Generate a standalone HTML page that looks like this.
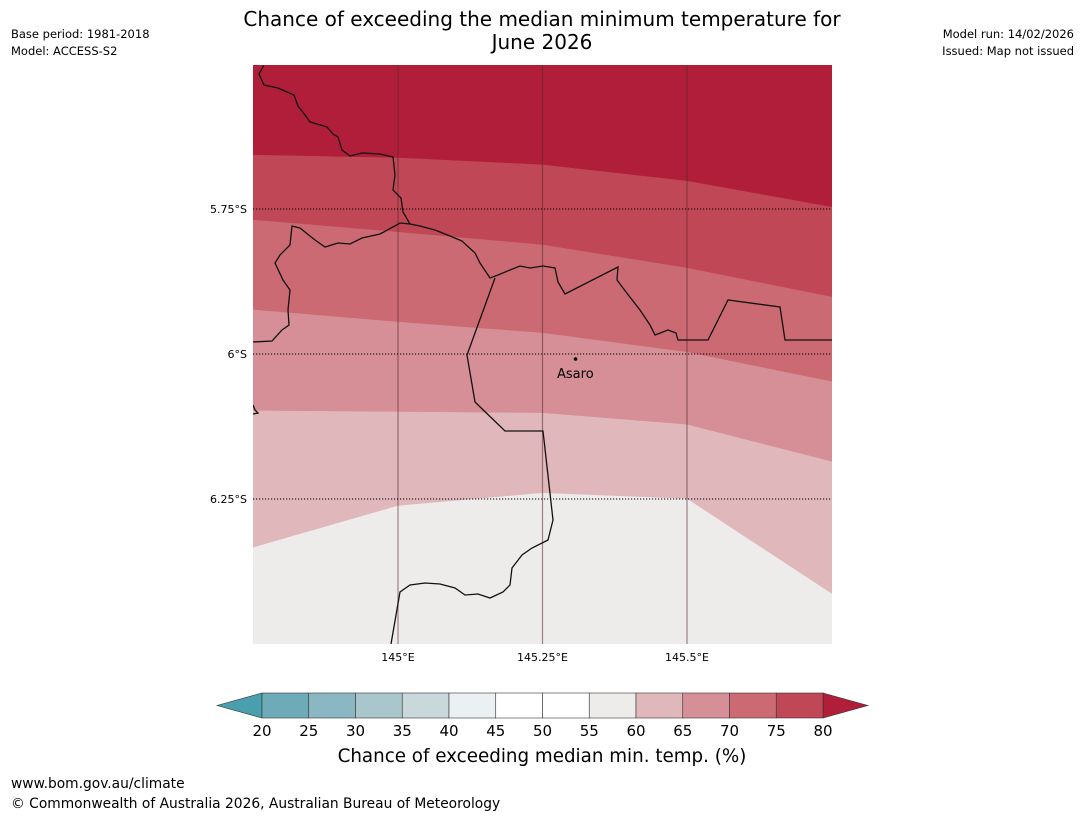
<!DOCTYPE html>
<html><head><meta charset="utf-8"><style>
body{margin:0;background:#fff;font-family:"Liberation Sans","DejaVu Sans",sans-serif;}
svg text{font-family:"DejaVu Sans","Liberation Sans",sans-serif;}
</style></head><body>
<svg id="chart" width="1085" height="816" viewBox="0 0 1085 816" xmlns="http://www.w3.org/2000/svg">
<rect width="1085" height="816" fill="#fff"/>
<text x="542" y="26" font-size="20" text-anchor="middle">Chance of exceeding the median minimum temperature for</text>
<text x="542" y="49" font-size="20" text-anchor="middle">June 2026</text>
<text x="11" y="38" font-size="11.5">Base period: 1981-2018</text>
<text x="11" y="55" font-size="11.5">Model: ACCESS-S2</text>
<text x="1074" y="38" font-size="11.5" text-anchor="end">Model run: 14/02/2026</text>
<text x="1074" y="55" font-size="11.5" text-anchor="end">Issued: Map not issued</text>
<defs><clipPath id="mapclip"><rect x="253" y="65" width="579" height="579"/></clipPath></defs>
<g id="bands" clip-path="url(#mapclip)"></g>
<g id="grid"></g>
<g clip-path="url(#mapclip)" fill="none" stroke="#111" stroke-width="1.3">
<polyline points="264,65 259,74 264,85 278,88 294,95 298,106 305,115 310,122 327,127 333,134 338,137 342,150 350,156 362,153 380,154 393,157 395,175 393,190 401,198 403,212 410,224 400,223 380,234 362,238 350,244 338,243 325,247 315,240 305,232 300,228 292,226 290,245 280,255 275,263 283,280 290,290 288,310 289,325 282,330 272,341 253,342"/>
<polyline points="410,224 420,226 435,230 450,236 462,241 475,253 480,263 490,278 498,275 510,270 520,266 530,268 543,266 555,268 558,282 565,294 618,267 617,280 626,292 640,310 650,325 655,335 668,330 676,333 678,340 708,340 728,300 780,307 785,340 832,340"/>
<polyline points="495,278 467,355 475,402 505,431 543,431 553,520 548,540 532,548 522,555 512,568 510,585 503,592 490,598 478,594 465,595 455,588 440,584 425,583 410,585 400,592 391,644"/>
<polyline points="253,405 255,410 258,413 253,414"/>
</g>
<g id="asaro">
<circle cx="575.5" cy="359" r="1.8" fill="#000"/>
<text x="557" y="378" font-size="13">Asaro</text>
</g>
<g id="ticks" font-size="11"></g>
<g id="cbar"></g>
<text x="542" y="762" font-size="18.3" text-anchor="middle">Chance of exceeding median min. temp. (%)</text>
<text x="11" y="788" font-size="13.8">www.bom.gov.au/climate</text>
<text x="11" y="808" font-size="13.8">© Commonwealth of Australia 2026, Australian Bureau of Meteorology</text>
</svg>
<script>
// Data
const boundaryLons = [144.749, 145, 145.25, 145.5, 145.751];
const b80 = [-5.657, -5.662, -5.674, -5.702, -5.747];
const b75 = [-5.769, -5.790, -5.812, -5.852, -5.902];
const b70 = [-5.924, -5.945, -5.964, -5.997, -6.048];
const b65 = [-6.098, -6.100, -6.102, -6.122, -6.186];
const b60 = [-6.334, -6.262, -6.240, -6.250, -6.414];
const lonTicks = [145, 145.25, 145.5];
const lonTickLabels = ["145°E", "145.25°E", "145.5°E"];
const latTicks = [-5.75, -6, -6.25];
const latTickLabels = ["5.75°S", "6°S", "6.25°S"];
const cbarLevels = [20,25,30,35,40,45,50,55,60,65,70,75,80];
const cbarColors = ["#6eabb8","#8bb7c2","#a9c6cc","#c9d8db","#ebf0f2","#ffffff","#ffffff","#eeeceb","#e0b8bc","#d68f96","#cb6a73","#c04755"];
const bandColors = ["#b01e3a","#c04755","#cb6a73","#d68f96","#e0b8bc","#eeeceb"];

const NS="http://www.w3.org/2000/svg";
const x = lon => 398 + (lon-145)*578;
const y = lat => 354 - (lat+6)*580;
const cx = v => 262 + (v-20)/60*561;
function mk(tag, attrs, parent){const e=document.createElementNS(NS,tag);for(const k in attrs)e.setAttribute(k,attrs[k]);parent.appendChild(e);return e;}

const bands=document.getElementById('bands');
const bounds=[null,b80,b75,b70,b65,b60,null];
const bandNames=['band-above-80','band-75-80','band-70-75','band-65-70','band-60-65','band-55-60'];
for(let i=0;i<6;i++){
  const top=bounds[i], bot=bounds[i+1];
  let pts=[];
  if(top) boundaryLons.forEach((l,j)=>pts.push(x(l)+','+y(top[j])));
  else pts.push('240,50','850,50');
  if(bot) boundaryLons.slice().reverse().forEach((l,j)=>pts.push(x(l)+','+y(bot[bot.length-1-j])));
  else pts.push('850,660','240,660');
  const p=mk('polygon',{points:pts.join(' '),fill:bandColors[i],stroke:bandColors[i],'stroke-width':0.5},bands);
  
  
}
const grid=document.getElementById('grid');
lonTicks.forEach((l,i)=>{
  const ln=mk('line',{x1:x(l),x2:x(l),y1:65,y2:644,stroke:'#5a2a30','stroke-opacity':0.55,'stroke-width':1.2},grid);
  
  
});
latTicks.forEach((l,i)=>{
  const ln=mk('line',{x1:253,x2:832,y1:y(l),y2:y(l),stroke:'#000','stroke-width':1,'stroke-dasharray':'1.2,1.8'},grid);
  
  
});
const ticks=document.getElementById('ticks');
lonTicks.forEach((l,i)=>{
  const t=mk('text',{x:x(l),y:661,'text-anchor':'middle'},ticks);t.textContent=lonTickLabels[i];
  
  
});
latTicks.forEach((l,i)=>{
  const t=mk('text',{x:247,y:y(l)+4,'text-anchor':'end'},ticks);t.textContent=latTickLabels[i];
  
  
});
const cb=document.getElementById('cbar');
const lt=mk('polygon',{points:`${cx(20)},693 ${cx(20)},718 217,705.5`,fill:'#4a9fae',stroke:'#333','stroke-width':0.6},cb);


const rt=mk('polygon',{points:`${cx(80)},693 ${cx(80)},718 868,705.5`,fill:'#b01e3a',stroke:'#333','stroke-width':0.6},cb);


cbarColors.forEach((c,i)=>{
  const r=mk('rect',{x:cx(cbarLevels[i]),y:693,width:cx(cbarLevels[i+1])-cx(cbarLevels[i]),height:25,fill:c,stroke:'#333','stroke-width':0.6},cb);
  
  
});
cbarLevels.forEach(v=>{
  const t=mk('text',{x:cx(v),y:736,'text-anchor':'middle','font-size':15},cb);t.textContent=v;
  
  
});
</script>
</body></html>
